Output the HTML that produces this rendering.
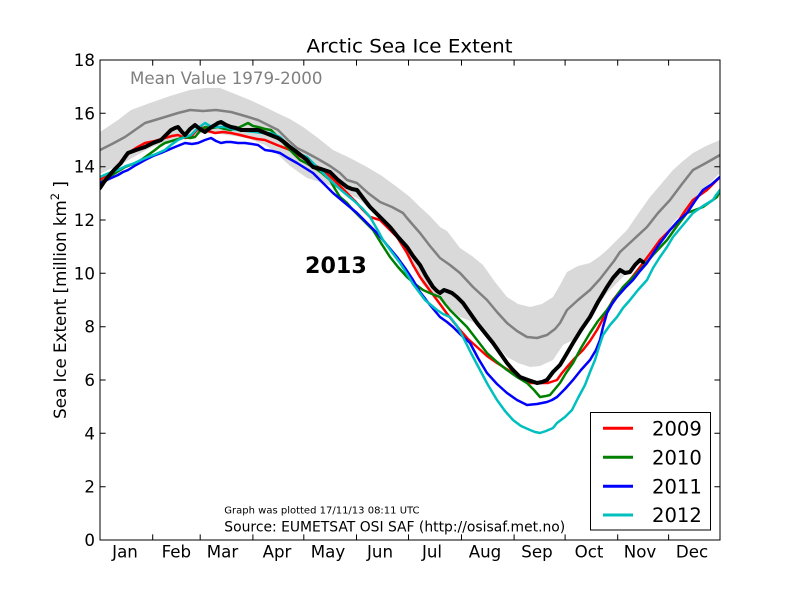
<!DOCTYPE html>
<html><head><meta charset="utf-8"><style>
html,body{margin:0;padding:0;background:#fff;}
svg{display:block;}
text{font-family:"DejaVu Sans","Liberation Sans",sans-serif;}
</style></head><body>
<svg width="800" height="600" viewBox="0 0 800 600" xmlns="http://www.w3.org/2000/svg">
<rect x="0" y="0" width="800" height="600" fill="#fff"/>
<defs><clipPath id="ax"><rect x="100" y="60" width="620" height="480"/></clipPath></defs>
<g clip-path="url(#ax)" fill="none" stroke-linejoin="round" stroke-linecap="round">
<polygon fill="#d9d9d9" stroke="none" points="100,132 118,120 131,110 150,103 170,96 190,90 205,88 220,88 235,94 250,100 263,106 277,113 290,119 303,127 318,138 333,150 350,158 367,167 382,176 397,187 410,197 420,207 430,216 440,227 447,231 460,248 472,256 483,265 495,282 507,297 518,304 530,307 542,304 553,297 560,285 567,272 578,266 590,263 600,256 607,250 617,240 627,230 638,214 650,197 662,183 673,170 683,161 693,153 706,146 720,140 720,173 710,183 700,193 687,208 673,223 662,240 650,255 638,264 627,273 617,283 607,293 598,305 590,317 580,330 573,340 563,345 553,360 540,366 530,367 518,363 507,357 497,346 487,333 473,322 460,317 442,302 423,285 413,265 407,250 397,238 390,230 380,220 370,210 360,200 345,191 323,183 307,178 290,166 275,152 265,145 250,139 235,136 220,134 205,133 190,134 170,140 150,148 125,162 100,174"/>
<polyline stroke="#808080" stroke-width="2.5" points="100,150 112,144 125,137 135,130 145,123 155,120 165,117 178,113 190,110 203,111 216,110 231,112 245,116 258,120 268,125 278,130 288,140 297,148 307,153 318,159 330,166 340,173 347,180 357,183 368,193 380,202 392,207 403,213 407,218 413,225 420,233 430,246 440,258 450,265 460,273 473,287 487,300 497,312 507,323 517,331 527,337 537,338 547,335 555,329 560,323 567,310 578,300 590,290 600,279 607,270 614,261 620,252 633,240 647,227 658,213 670,200 682,184 693,170 706,163 720,155"/>
<polyline stroke="#ff0000" stroke-width="2.5" points="100,180 108,174 115,170 122,160 128,153 136,148 145,143 155,141 165,138 172,136 178,135 185,138 191,137 196,131 201,127 208,131 215,133 223,132 231,133 240,135 248,137 257,139 265,140 277,145 290,150 306,160 323,170 335,181 347,193 355,201 363,210 370,217 380,220 389,229 397,237 407,253 413,265 420,277 428,288 437,300 448,315 460,330 468,339 477,347 487,356 497,363 505,368 513,373 522,378 530,383 540,383 548,383 557,380 562,373 567,367 575,358 583,350 590,341 597,330 605,315 613,300 621,290 630,280 637,271 643,263 652,251 660,240 668,232 677,223 685,211 693,200 700,195 707,190 713,184 720,177"/>
<polyline stroke="#008000" stroke-width="2.5" points="100,183 112,175 125,167 133,164 141,160 148,155 155,150 160,146 165,143 175,140 185,137 190,138 195,137 200,131 205,127 212,128 218,127 225,129 231,130 240,127 248,123 253,126 258,127 265,129 271,130 278,137 289,149 300,160 306,163 313,167 322,173 330,180 335,189 340,197 347,203 353,210 363,220 373,230 381,243 390,257 398,267 407,277 415,284 423,290 432,294 440,297 445,304 450,310 458,318 467,327 477,340 487,353 497,362 507,370 517,377 527,383 534,390 540,397 546,396 550,395 555,389 560,383 566,373 573,363 581,348 590,333 598,321 607,310 615,298 623,287 632,278 640,270 653,255 667,240 677,226 687,213 695,210 703,207 710,202 717,197 720,190"/>
<polyline stroke="#0000ff" stroke-width="2.5" points="100,183 109,179 118,175 123,172 128,170 136,165 145,160 153,156 161,153 168,150 175,147 180,145 185,143 192,144 198,143 205,140 211,138 216,141 221,143 226,142 231,142 238,143 245,143 252,144 258,145 265,150 272,151 280,153 288,158 297,163 305,168 313,173 323,183 333,193 345,203 357,213 367,223 377,233 387,245 397,257 405,268 413,280 420,292 430,305 440,317 447,322 453,327 461,335 470,343 478,358 487,373 497,384 507,393 517,400 527,405 537,404 547,402 552,400 557,397 565,389 573,380 581,370 590,360 596,350 600,340 603,327 607,313 612,304 617,297 625,288 633,280 640,271 647,263 658,246 670,230 678,221 687,213 695,201 703,190 712,184 720,177"/>
<polyline stroke="#00bfbf" stroke-width="2.5" points="100,177 109,173 118,170 126,166 135,163 141,160 148,157 156,154 165,150 171,145 178,140 185,137 191,135 198,128 205,123 210,126 215,127 220,127 225,127 231,129 238,130 246,131 255,132 263,133 271,133 280,137 288,145 297,153 302,155 307,157 315,165 323,173 330,180 341,190 353,200 362,208 370,217 377,229 383,240 391,251 400,263 407,274 413,284 419,292 425,300 431,305 437,310 443,314 450,317 457,326 463,337 471,353 480,370 488,385 497,400 505,411 513,420 521,426 530,430 535,432 540,433 546,431 553,428 557,423 565,417 572,410 578,398 585,385 590,372 595,360 599,347 603,335 610,325 617,317 623,308 630,300 638,290 647,280 653,268 660,257 667,247 673,237 683,225 693,213 703,206 713,200 716,195 720,190"/>
<polyline stroke="#000000" stroke-width="4" points="100,188 104,182 108,177 114,170 121,163 125,157 128,153 136,150 145,147 153,143 161,140 166,135 171,130 175,128 178,127 182,132 185,135 190,129 195,125 200,129 205,132 210,128 215,125 218,123 221,122 226,125 231,127 236,128 241,130 250,130 258,130 268,134 278,138 284,142 290,147 298,153 307,160 310,164 313,167 321,169 330,172 338,180 347,187 352,189 357,190 363,198 370,207 375,212 380,217 385,222 390,227 398,237 407,247 413,256 420,265 426,276 433,287 437,291 440,293 444,290 447,291 452,293 457,297 463,303 470,313 477,323 485,333 493,343 500,353 507,363 513,370 520,377 528,380 537,383 542,382 547,380 553,372 560,365 566,355 573,343 581,330 590,317 598,302 607,287 613,278 620,270 625,273 630,272 635,265 640,260 643,262"/>
</g>
<rect x="100" y="60" width="620" height="480" fill="none" stroke="#000" stroke-width="1"/>
<g stroke="#000" stroke-width="1">
<path d="M152.7,540v-5.6M200.2,540v-5.6M252.9,540v-5.6M303.8,540v-5.6M356.5,540v-5.6M408.5,540v-5.6M461.5,540v-5.6M514.1,540v-5.6M565.1,540v-5.6M617.7,540v-5.6M668.6,540v-5.6"/>
<path d="M152.7,60v5.6M200.2,60v5.6M252.9,60v5.6M303.8,60v5.6M356.5,60v5.6M408.5,60v5.6M461.5,60v5.6M514.1,60v5.6M565.1,60v5.6M617.7,60v5.6M668.6,60v5.6"/>
<path d="M100,486.7h5.6M100,433.3h5.6M100,380h5.6M100,326.7h5.6M100,273.3h5.6M100,220h5.6M100,166.7h5.6M100,113.3h5.6"/>
<path d="M720,486.7h-5.6M720,433.3h-5.6M720,380h-5.6M720,326.7h-5.6M720,273.3h-5.6M720,220h-5.6M720,166.7h-5.6M720,113.3h-5.6"/>
</g>
<g font-size="16.67" fill="#000" text-anchor="end">
<text x="95" y="546">0</text>
<text x="95" y="492.7">2</text>
<text x="95" y="439.3">4</text>
<text x="95" y="386">6</text>
<text x="95" y="332.7">8</text>
<text x="95" y="279.3">10</text>
<text x="95" y="226">12</text>
<text x="95" y="172.7">14</text>
<text x="95" y="119.3">16</text>
<text x="95" y="66">18</text>
</g>
<g font-size="16.67" fill="#000" text-anchor="middle">
<text x="125" y="557.7">Jan</text>
<text x="176.4" y="557.7">Feb</text>
<text x="222.5" y="557.7">Mar</text>
<text x="277" y="557.7">Apr</text>
<text x="328" y="557.7">May</text>
<text x="380" y="557.7">Jun</text>
<text x="432" y="557.7">Jul</text>
<text x="485" y="557.7">Aug</text>
<text x="537" y="557.7">Sep</text>
<text x="589" y="557.7">Oct</text>
<text x="640" y="557.7">Nov</text>
<text x="692" y="557.7">Dec</text>
</g>
<text x="409.5" y="52.7" font-size="18.5" text-anchor="middle" textLength="206" lengthAdjust="spacingAndGlyphs">Arctic Sea Ice Extent</text>
<text x="130" y="84" font-size="16.67" fill="#808080">Mean Value 1979-2000</text>
<text x="305" y="273" font-size="22.2" font-weight="bold">2013</text>
<text x="224.3" y="513.3" font-size="10">Graph was plotted 17/11/13 08:11 UTC</text>
<text x="224.3" y="531.7" font-size="13.9">Source: EUMETSAT OSI SAF (http://osisaf.met.no)</text>
<text transform="translate(66,300) rotate(-90)" font-size="16.67" text-anchor="middle">Sea Ice Extent [million km<tspan font-size="11.5" dy="-7">2</tspan><tspan dy="7"> ]</tspan></text>
<rect x="590.5" y="412.5" width="120" height="117.5" fill="#fff" stroke="#000" stroke-width="1"/>
<g stroke-width="3">
<line x1="603" y1="428.3" x2="633" y2="428.3" stroke="#ff0000"/>
<line x1="603" y1="457.3" x2="633" y2="457.3" stroke="#008000"/>
<line x1="603" y1="486.3" x2="633" y2="486.3" stroke="#0000ff"/>
<line x1="603" y1="515" x2="633" y2="515" stroke="#00bfbf"/>
</g>
<g font-size="19.6" fill="#000">
<text x="652" y="435.3">2009</text>
<text x="652" y="464.3">2010</text>
<text x="652" y="493.3">2011</text>
<text x="652" y="522">2012</text>
</g>
</svg>
</body></html>
